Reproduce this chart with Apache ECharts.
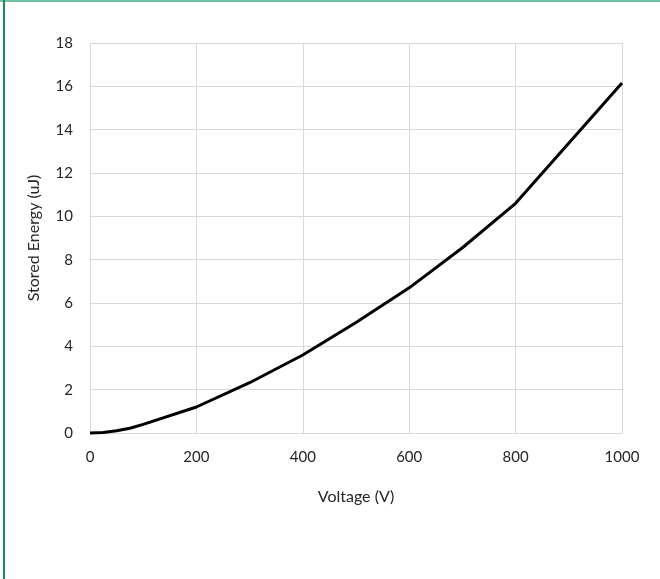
<!DOCTYPE html>
<html><head><meta charset="utf-8">
<script src="https://cdn.jsdelivr.net/npm/echarts@6/dist/echarts.min.js"></script>
<style>html,body{margin:0;padding:0;background:#fff}#c{width:660px;height:579px}</style>
</head><body><div id="c"></div>
<script>
const voltage = [0, 25, 50, 75, 100, 200, 300, 400, 500, 600, 700, 800, 1000];
const energy  = [0, 0.02, 0.1, 0.22, 0.4, 1.2, 2.32, 3.6, 5.1, 6.7, 8.55, 10.6, 16.15];
const xTicks = [0, 200, 400, 600, 800, 1000];
const yTicks = [0, 2, 4, 6, 8, 10, 12, 14, 16, 18];

const chart = echarts.init(document.getElementById('c'));
const font = 'Lato, "Open Sans", sans-serif';
chart.setOption({
  animation: false,
  graphic: [
    {type:'rect', shape:{x:0,y:0,width:660,height:2}, style:{fill:'#6fc3a3'}},
    {type:'rect', shape:{x:3,y:0,width:2,height:579}, style:{fill:'#1f8a5b'}}
  ],
  grid: {left: 90, right: 38, top: 43, bottom: 146, containLabel: false},
  xAxis: {
    type: 'value', min: xTicks[0], max: xTicks[xTicks.length-1], interval: 200,
    name: 'Voltage (V)', nameLocation: 'middle', nameGap: 56,
    nameTextStyle: {fontFamily: font, fontSize: 16, color: '#262626'},
    axisLine: {show: true, lineStyle: {color: '#d9d9d9'}},
    axisTick: {show: false},
    axisLabel: {fontFamily: font, fontSize: 15, color: '#262626', margin: 17, formatter: v => String(v)},
    splitLine: {show: true, lineStyle: {color: '#d9d9d9', width: 1}}
  },
  yAxis: {
    type: 'value', min: yTicks[0], max: yTicks[yTicks.length-1], interval: 2,
    name: 'Stored Energy (uJ)', nameLocation: 'middle', nameGap: 48,
    nameTextStyle: {fontFamily: font, fontSize: 16, color: '#262626'},
    axisLine: {show: false},
    axisTick: {show: false},
    axisLabel: {fontFamily: font, fontSize: 15, color: '#262626', margin: 17, formatter: v => String(v)},
    splitLine: {show: true, lineStyle: {color: '#d9d9d9', width: 1}}
  },
  series: [{
    type: 'line',
    data: voltage.map((v, i) => [v, energy[i]]),
    showSymbol: false,
    lineStyle: {color: '#000', width: 3},
    clip: false
  }]
});
</script></body></html>
